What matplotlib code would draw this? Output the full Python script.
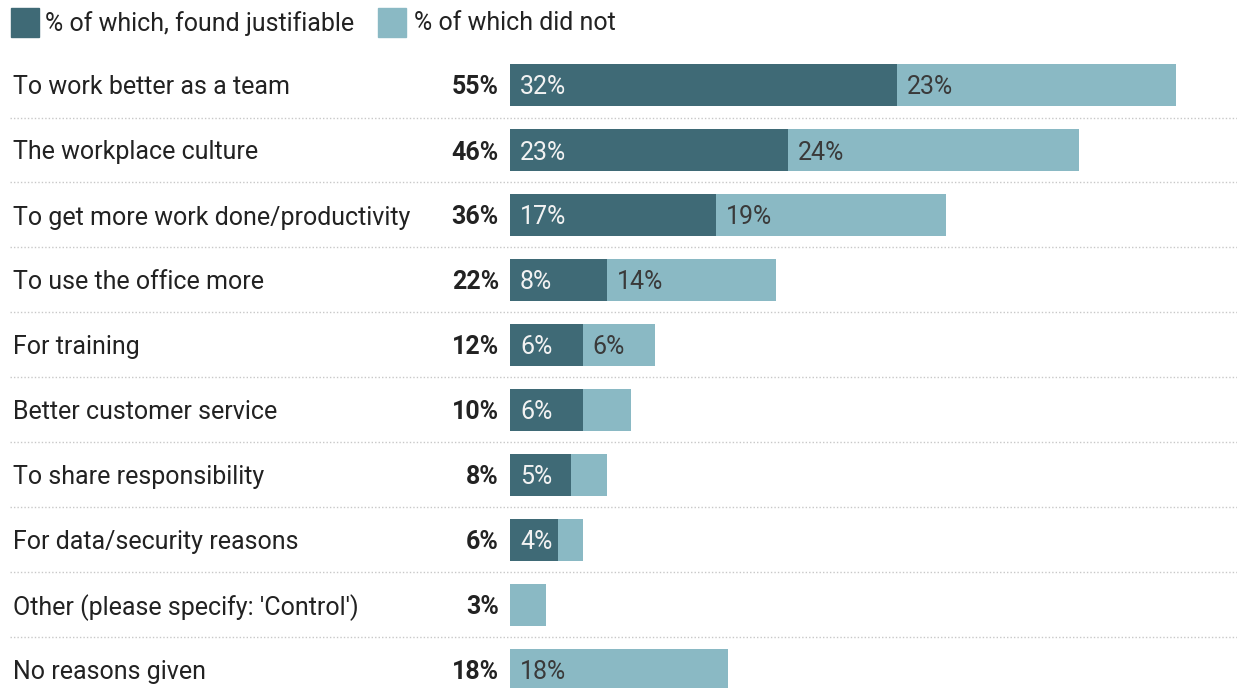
import matplotlib
matplotlib.use("Agg")
import matplotlib.pyplot as plt
from matplotlib.patches import Rectangle
from matplotlib.transforms import blended_transform_factory

plt.rcParams['font.family'] = ['Roboto', 'DejaVu Sans']

categories = [
    "To work better as a team",
    "The workplace culture",
    "To get more work done/productivity",
    "To use the office more",
    "For training",
    "Better customer service",
    "To share responsibility",
    "For data/security reasons",
    "Other (please specify: 'Control')",
    "No reasons given",
]
totals = [55, 46, 36, 22, 12, 10, 8, 6, 3, 18]
justifiable = [32, 23, 17, 8, 6, 6, 5, 4, 0, 0]
did_not = [23, 24, 19, 14, 6, 4, 3, 2, 3, 18]
legend_labels = ["% of which, found justifiable", "% of which did not"]

DARK = "#3f6a76"
LIGHT = "#8ab9c4"

W, H = 1237, 688
fig = plt.figure(figsize=(W / 100, H / 100), dpi=100)

# Bar area: starts at x=510px, 12.1 px per percentage point
px_per_pct = 12.1
x0 = 510
ax = fig.add_axes([x0 / W, 0, (W - x0) / W, 1])
ax.set_xlim(0, (W - x0) / px_per_pct)
row0, step = 85, 65
ax.set_ylim((H - row0) / step, -row0 / step)
ax.axis("off")

ys = list(range(len(categories)))
bh = 42 / step
ax.barh(ys, justifiable, height=bh, color=DARK, edgecolor="none")
ax.barh(ys, did_not, left=justifiable, height=bh, color=LIGHT, edgecolor="none")

fs = 18
va = "center_baseline"
pad = 10 / px_per_pct
for y, j, d in zip(ys, justifiable, did_not):
    if j >= 4:
        ax.text(pad, y, f"{j}%", ha="left", va=va, fontsize=fs,
                color="#f2f2f2")
    if d >= 5:
        ax.text(j + pad, y, f"{d}%", ha="left", va=va, fontsize=fs,
                color="#3a3a3a")

tr = blended_transform_factory(fig.transFigure, ax.transData)
for y, cat, tot in zip(ys, categories, totals):
    ax.text(13 / W, y, cat, transform=tr, ha="left", va=va,
            fontsize=fs, color="#222222")
    ax.text(499 / W, y, f"{tot}%", transform=tr, ha="right", va=va,
            fontsize=fs, fontweight="bold", color="#222222")

# Dotted separators between rows
for y in ys[:-1]:
    ax.plot([10 / W, 1], [y + 0.5, y + 0.5], transform=tr, color="#c8c8c8",
            linestyle=(0, (1, 1.5)), linewidth=1, clip_on=False)

# Legend
for sx, tx, col, lab in [(11, 45, DARK, legend_labels[0]),
                         (378, 414, LIGHT, legend_labels[1])]:
    fig.patches.append(Rectangle((sx / W, 1 - 37 / H), 28 / W, 29 / H,
                                 transform=fig.transFigure, color=col))
    fig.text(tx / W, 1 - 21 / H, lab, ha="left", va=va, fontsize=fs,
             color="#222222")

fig.savefig("out.png", dpi=100)
